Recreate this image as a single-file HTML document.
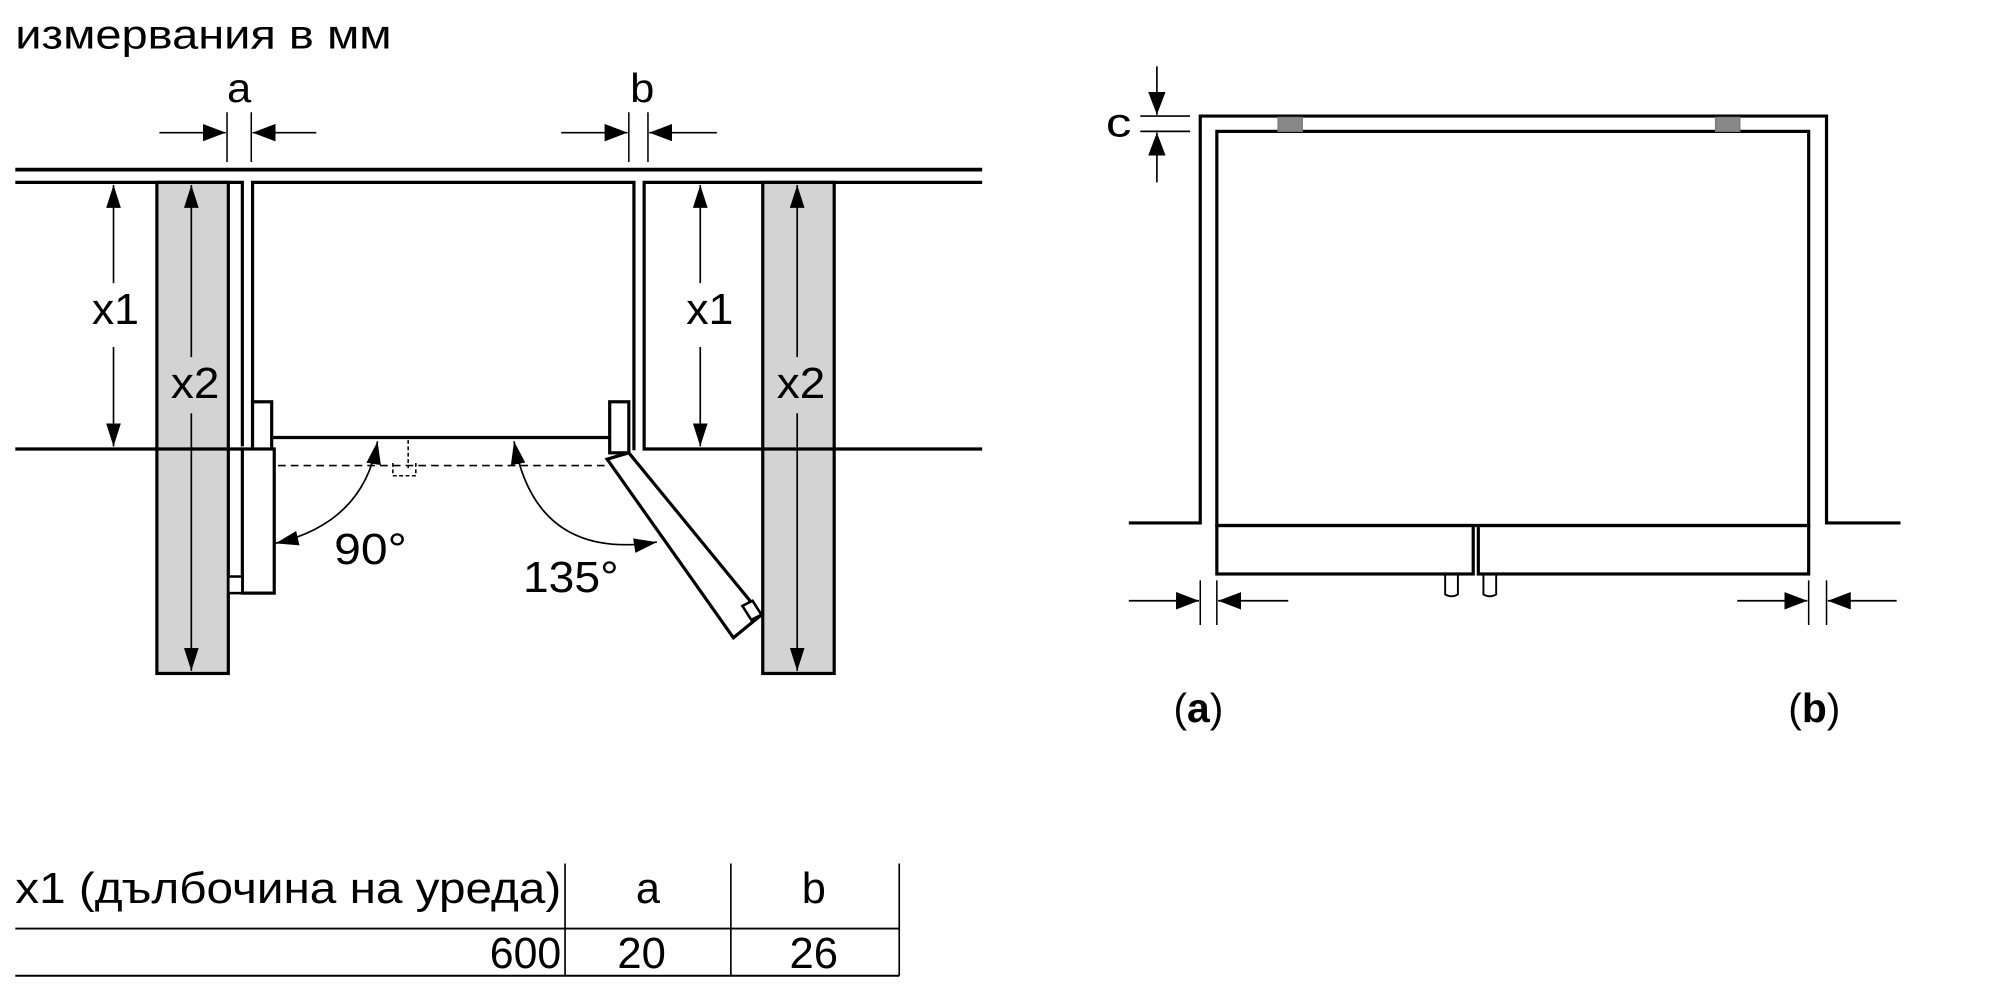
<!DOCTYPE html>
<html><head><meta charset="utf-8"><style>
html,body{margin:0;padding:0;background:#fff;width:2000px;height:1000px;overflow:hidden}
svg{display:block}
text{font-family:"Liberation Sans",sans-serif;fill:#000}
</style></head><body>
<svg width="2000" height="1000" viewBox="0 0 1568 784" xmlns="http://www.w3.org/2000/svg">
<defs>
<marker id="ah" viewBox="0 0 10 10" refX="10" refY="5" markerWidth="18" markerHeight="18" markerUnits="userSpaceOnUse" orient="auto"><path d="M0,1.2 L10,5 L0,8.8 Z" fill="#000"/></marker>
<marker id="ahs" viewBox="0 0 10 10" refX="10" refY="5" markerWidth="18" markerHeight="18" markerUnits="userSpaceOnUse" orient="auto-start-reverse"><path d="M0,1.8 L10,5 L0,8.2 Z" fill="#000"/></marker>
</defs>
<text x="12" y="38" font-size="32" textLength="295" lengthAdjust="spacingAndGlyphs">измервания в мм</text>

<g stroke="#000" fill="none">
<rect x="123" y="143" width="56" height="385" fill="#d3d3d3" stroke-width="2.5"/>
<rect x="598" y="143" width="56" height="385" fill="#d3d3d3" stroke-width="2.5"/>
<line x1="12" y1="133" x2="770" y2="133" stroke-width="3"/>
<polyline points="12,143 190,143 190,350" stroke-width="2.5"/>
<polyline points="198,353 198,143 497,143 497,353" stroke-width="2.5"/>
<polyline points="770,143 505,143 505,352 770,352" stroke-width="2.5"/>
<line x1="12" y1="352" x2="190" y2="352" stroke-width="2.5"/>
<line x1="213" y1="343" x2="478" y2="343" stroke-width="2.5"/>
<rect x="198" y="315" width="15" height="40" fill="#fff" stroke-width="2.5"/>
<rect x="478" y="315" width="15" height="40" fill="#fff" stroke-width="2.5"/>
<rect x="190" y="352" width="25" height="113" fill="#fff" stroke-width="2.5"/>
<rect x="179" y="452" width="11" height="13" fill="#fff" stroke-width="2"/>
<line x1="218" y1="365" x2="478" y2="365" stroke-width="1.3" stroke-dasharray="6,4"/>
<path d="M308,363 v10 h18 v-10 M320,345 v22" stroke-width="1.2" stroke-dasharray="3,2"/>
<polygon points="476,360 493,355 597,482 575,500" fill="#fff" stroke-width="2.5"/>
<polygon points="582,475 590,471 597,482 589,486" fill="#fff" stroke-width="2"/>
<line x1="178" y1="88" x2="178" y2="127" stroke-width="1.2"/>
<line x1="197" y1="88" x2="197" y2="127" stroke-width="1.2"/>
<line x1="125" y1="104" x2="177" y2="104" stroke-width="1.3" marker-end="url(#ah)"/>
<line x1="248" y1="104" x2="198" y2="104" stroke-width="1.3" marker-end="url(#ah)"/>
<line x1="493" y1="88" x2="493" y2="127" stroke-width="1.2"/>
<line x1="508" y1="88" x2="508" y2="127" stroke-width="1.2"/>
<line x1="440" y1="104" x2="492" y2="104" stroke-width="1.3" marker-end="url(#ah)"/>
<line x1="562" y1="104" x2="509" y2="104" stroke-width="1.3" marker-end="url(#ah)"/>
<line x1="89" y1="145" x2="89" y2="222" stroke-width="1.3" marker-start="url(#ahs)"/>
<line x1="89" y1="272" x2="89" y2="350" stroke-width="1.3" marker-end="url(#ahs)"/>
<line x1="549" y1="145" x2="549" y2="222" stroke-width="1.3" marker-start="url(#ahs)"/>
<line x1="549" y1="272" x2="549" y2="350" stroke-width="1.3" marker-end="url(#ahs)"/>
<line x1="150" y1="145" x2="150" y2="280" stroke-width="1.3" marker-start="url(#ahs)"/>
<line x1="150" y1="324" x2="150" y2="526" stroke-width="1.3" marker-end="url(#ahs)"/>
<line x1="625" y1="145" x2="625" y2="280" stroke-width="1.3" marker-start="url(#ahs)"/>
<line x1="625" y1="324" x2="625" y2="526" stroke-width="1.3" marker-end="url(#ahs)"/>
<path d="M216,426 Q285,410 296,346" stroke-width="1.3" marker-start="url(#ahs)" marker-end="url(#ahs)"/>
<path d="M403,346 Q420,440 515,425" stroke-width="1.3" marker-start="url(#ahs)" marker-end="url(#ahs)"/>
</g>
<text x="178" y="80" font-size="32" textLength="19" lengthAdjust="spacingAndGlyphs">a</text>
<text x="494" y="80" font-size="32" textLength="19" lengthAdjust="spacingAndGlyphs">b</text>
<text x="72" y="254" font-size="34" textLength="37" lengthAdjust="spacingAndGlyphs">x1</text>
<text x="538" y="254" font-size="34" textLength="37" lengthAdjust="spacingAndGlyphs">x1</text>
<text x="134" y="312" font-size="34" textLength="38" lengthAdjust="spacingAndGlyphs">x2</text>
<text x="609" y="312" font-size="34" textLength="38" lengthAdjust="spacingAndGlyphs">x2</text>
<text x="262" y="442" font-size="34" textLength="57" lengthAdjust="spacingAndGlyphs">90°</text>
<text x="410" y="464" font-size="34" textLength="75" lengthAdjust="spacingAndGlyphs">135°</text>

<g stroke="#000" fill="none">
<polyline points="885,410 941,410 941,91 1432,91 1432,410 1490,410" stroke-width="2.5"/>
<rect x="954" y="103" width="464" height="309" stroke-width="2.5"/>
<rect x="1002" y="92" width="19" height="11" fill="#888" stroke="#777" stroke-width="1"/>
<rect x="1345" y="92" width="19" height="11" fill="#888" stroke="#777" stroke-width="1"/>
<rect x="954" y="412" width="201" height="38" stroke-width="2.5"/>
<rect x="1159" y="412" width="259" height="38" stroke-width="2.5"/>
<path d="M1133,450 v16 q5,3 10,0 v-16 M1163,450 v16 q5,3 10,0 v-16" stroke-width="1.5"/>
<line x1="894" y1="91" x2="933" y2="91" stroke-width="1.3"/>
<line x1="894" y1="103" x2="933" y2="103" stroke-width="1.3"/>
<line x1="907" y1="52" x2="907" y2="90" stroke-width="1.3" marker-end="url(#ah)"/>
<line x1="907" y1="143" x2="907" y2="104" stroke-width="1.3" marker-end="url(#ah)"/>
<line x1="941" y1="455" x2="941" y2="490" stroke-width="1.2"/>
<line x1="954" y1="455" x2="954" y2="490" stroke-width="1.2"/>
<line x1="885" y1="471" x2="940" y2="471" stroke-width="1.3" marker-end="url(#ah)"/>
<line x1="1010" y1="471" x2="955" y2="471" stroke-width="1.3" marker-end="url(#ah)"/>
<line x1="1418" y1="455" x2="1418" y2="490" stroke-width="1.2"/>
<line x1="1432" y1="455" x2="1432" y2="490" stroke-width="1.2"/>
<line x1="1362" y1="471" x2="1417" y2="471" stroke-width="1.3" marker-end="url(#ah)"/>
<line x1="1487" y1="471" x2="1433" y2="471" stroke-width="1.3" marker-end="url(#ah)"/>
</g>
<text x="867" y="107" font-size="32" textLength="20" lengthAdjust="spacingAndGlyphs">c</text>
<text x="920" y="566" font-size="32">(<tspan font-weight="bold">a</tspan>)</text>
<text x="1402" y="566" font-size="32">(<tspan font-weight="bold">b</tspan>)</text>

<g stroke="#000">
<line x1="443" y1="677" x2="443" y2="765" stroke-width="1.3"/>
<line x1="573" y1="677" x2="573" y2="765" stroke-width="1.3"/>
<line x1="705" y1="677" x2="705" y2="765" stroke-width="1.3"/>
<line x1="12" y1="728" x2="705" y2="728" stroke-width="1.5"/>
<line x1="12" y1="765" x2="705" y2="765" stroke-width="1.5"/>
</g>
<text x="12" y="708" font-size="34" textLength="428" lengthAdjust="spacingAndGlyphs">x1 (дълбочина на уреда)</text>
<text x="508" y="708" font-size="34" text-anchor="middle">a</text>
<text x="638" y="708" font-size="34" text-anchor="middle">b</text>
<text x="440" y="759" font-size="34" text-anchor="end" textLength="56" lengthAdjust="spacingAndGlyphs">600</text>
<text x="503" y="759" font-size="34" text-anchor="middle" textLength="38" lengthAdjust="spacingAndGlyphs">20</text>
<text x="638" y="759" font-size="34" text-anchor="middle" textLength="38" lengthAdjust="spacingAndGlyphs">26</text>
</svg>
</body></html>
